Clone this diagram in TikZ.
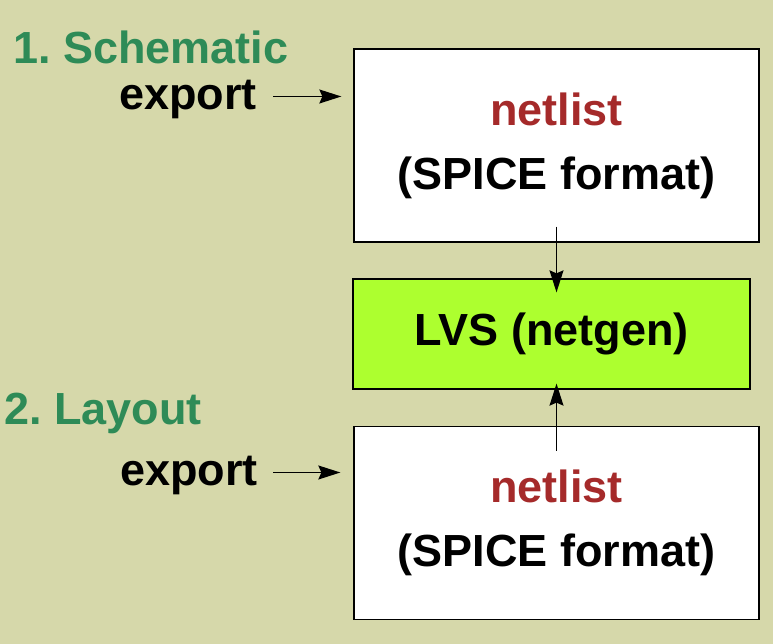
\documentclass[tikz,border=0pt]{standalone}
\usepackage{fontspec}
\setmainfont{Liberation Sans}
\usetikzlibrary{positioning,calc,arrows.meta}
\definecolor{bgolive}{RGB}{214,216,170}
\definecolor{stepgreen}{RGB}{46,139,87}
\definecolor{netred}{RGB}{165,42,42}
\definecolor{lvsgreen}{RGB}{173,255,47}
\tikzset{
  txt/.style={font=\bfseries\fontsize{45}{64}\selectfont\frenchspacing, inner sep=0pt},
  box/.style={draw, line width=1.3pt, fill=white, minimum width=405pt, minimum height=193pt, align=center, txt},
  arr/.style={-{Stealth[length=22pt,width=14pt,inset=3pt]}, line width=1.3pt}
}

\begin{document}
\begin{tikzpicture}[x=1pt,y=1pt]
        \fill[bgolive](0,0)rectangle(773,644);
        \useasboundingbox(0,0)rectangle(773,644);

        \node[box](top)at(556.5,498.5){\textcolor{netred}{netlist}\\(SPICE format)};
        \node[box,fill=lvsgreen,minimum width=397pt,minimum height=110pt](lvs)at(551.5,310){LVS (netgen)};
        \node[box](bot)at(556.5,121){\textcolor{netred}{netlist}\\(SPICE format)};

        \node[txt,text=stepgreen,anchor=base west](sch)at(13,580){1. Schematic};
        \node[txt,anchor=base east](exp1)at(257,534){export};
        \node[txt,text=stepgreen,anchor=base west](lay)at(4,219){2. Layout};
        \node[txt,anchor=base east](exp2)at(258,158){export};

        \draw[arr,shorten <=16pt,shorten >=12pt]([yshift=13.5pt]exp1.base east)--([yshift=13.5pt]exp1.base east-|top.west);
        \draw[arr,shorten <=15pt,shorten >=13pt]([yshift=13.5pt]exp2.base east)--([yshift=13.5pt]exp2.base east-|bot.west);
        \draw[arr,shorten <=-16pt,shorten >=-14pt](top.south)--(top.south|-lvs.north);
        \draw[arr,shorten <=-25pt,shorten >=-6pt](bot.north)--(bot.north|-lvs.south);
    \end{tikzpicture}
\end{document}
